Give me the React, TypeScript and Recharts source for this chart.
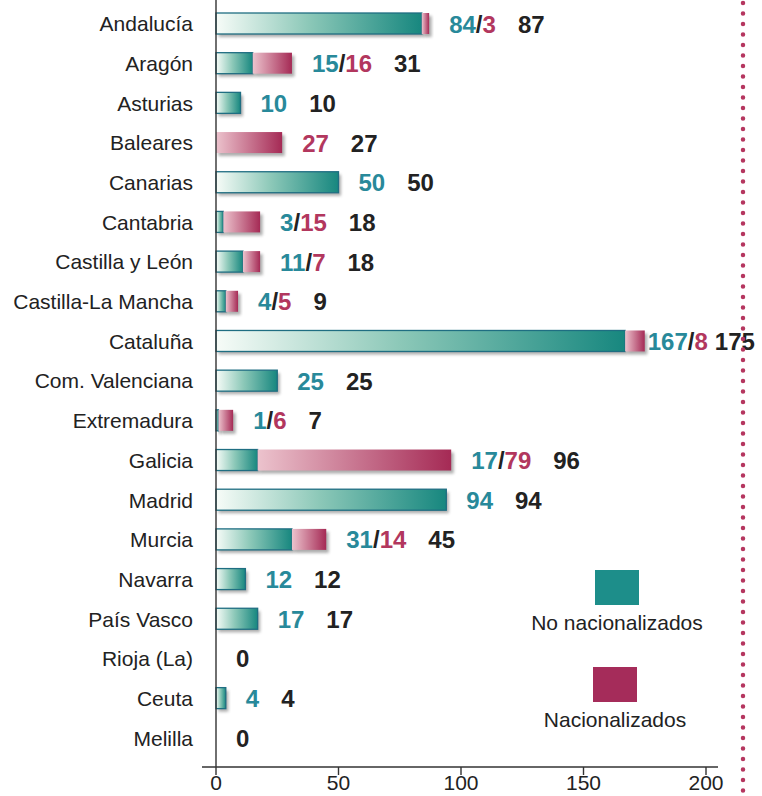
import React from 'react'
import {
  BarChart, Bar, XAxis, YAxis, ReferenceLine, LabelList, Legend,
} from 'recharts'

const regions = [
  'Andalucía', 'Aragón', 'Asturias', 'Baleares', 'Canarias', 'Cantabria',
  'Castilla y León', 'Castilla-La Mancha', 'Cataluña', 'Com. Valenciana',
  'Extremadura', 'Galicia', 'Madrid', 'Murcia', 'Navarra', 'País Vasco',
  'Rioja (La)', 'Ceuta', 'Melilla',
]
const noNacionalizados = [84, 15, 10, 0, 50, 3, 11, 4, 167, 25, 1, 17, 94, 31, 12, 17, 0, 4, 0]
const nacionalizados = [3, 16, 0, 27, 0, 15, 7, 5, 8, 0, 6, 79, 0, 14, 0, 0, 0, 0, 0]
const totals = [87, 31, 10, 27, 50, 18, 18, 9, 175, 25, 7, 96, 94, 45, 12, 17, 0, 4, 0]
const xTicks = [0, 50, 100, 150, 200]

const TEAL = '#17877f'
const CRIMSON = '#a52a55'
const TEAL_TEXT = '#28899a'
const CRIMSON_TEXT = '#b2375e'
const INK = '#222'
const FONT = '"Liberation Sans", Arial, Helvetica, sans-serif'

const data = regions.map((name, i) => ({
  name,
  noNac: noNacionalizados[i],
  nac: nacionalizados[i],
  total: totals[i],
}))

function segment(stroke?: string) {
  return (p: any) => {
    const { x, y, width, height, fill } = p
    if (!width || width <= 0) return <g />
    return (
      <g>
        <rect x={x + 2.5} y={y + 3} width={width} height={height} fill="#4a4a4a" opacity={0.45} filter="url(#barBlur)" />
        <rect x={x} y={y} width={width} height={height} fill={fill}
          stroke={stroke ?? 'none'} strokeWidth={stroke ? 1.3 : 0} />
      </g>
    )
  }
}

function ValueLabel(props: any) {
  const vb = props.viewBox ?? props
  const i = props.index
  const d = data[i]
  if (!d || vb == null) return null
  const end = vb.x + vb.width
  const cy = vb.y + vb.height / 2
  const a = d.noNac
  const b = d.nac
  let split = ''
  if (a > 0 && b > 0) split = `${a}/${b}`
  else if (a > 0) split = `${a}`
  else if (b > 0) split = `${b}`
  const w = split.replace('/', '').length * 13.3 + (split.includes('/') ? 6.7 : 0)
  let off = 20
  let gap = 22
  if (end + off + w + gap + String(d.total).length * 13.3 > 752) { off = 3; gap = 7 }
  return (
    <text x={end + off} y={cy} dominantBaseline="central" fontFamily={FONT}
      fontWeight={700} fontSize={24}>
      {a > 0 && <tspan fill={TEAL_TEXT}>{a}</tspan>}
      {a > 0 && b > 0 && <tspan fill={INK}>/</tspan>}
      {b > 0 && <tspan fill={CRIMSON_TEXT}>{b}</tspan>}
      <tspan dx={split ? gap : 0} fill={INK}>{d.total}</tspan>
    </text>
  )
}

function LegendBox() {
  const item = (color: string, label: string, shift: number) => (
    <div style={{ display: 'flex', flexDirection: 'column', alignItems: 'center', marginLeft: shift }}>
      <div style={{ width: 44, height: 35, background: color }} />
      <div style={{ fontFamily: FONT, fontSize: 21, color: INK, marginTop: 6 }}>{label}</div>
    </div>
  )
  return (
    <div style={{ display: 'flex', flexDirection: 'column', alignItems: 'center', gap: 32 }}>
      {item('#1d8e8a', 'No nacionalizados', 0)}
      {item('#a52c5a', 'Nacionalizados', -4)}
    </div>
  )
}

export default function App() {
  return (
    <div style={{ position: 'absolute', left: 0, top: 0, width: 762, height: 796, background: '#fff' }}>
      <BarChart width={762} height={796} data={data} layout="vertical"
        margin={{ top: 0, right: 44, left: 0, bottom: 0 }} barSize={21}>
        <defs>
          <linearGradient id="gradTeal" x1="0" y1="0" x2="1" y2="0">
            <stop offset="0%" stopColor="#f7fcf8" />
            <stop offset="45%" stopColor="#8cc8b8" />
            <stop offset="100%" stopColor={TEAL} />
          </linearGradient>
          <linearGradient id="gradCrimson" x1="0" y1="0" x2="1" y2="0">
            <stop offset="0%" stopColor="#ecc3cd" />
            <stop offset="100%" stopColor={CRIMSON} />
          </linearGradient>
          <filter id="barBlur" x="-20%" y="-50%" width="140%" height="200%">
            <feGaussianBlur stdDeviation="1.6" />
          </filter>
        </defs>
        <XAxis type="number" domain={[0, 200]} ticks={xTicks} padding={{ left: 14, right: 12 }}
          height={29} stroke="#333" strokeWidth={1.4} tickSize={8} tickMargin={0}
          tick={{ fontSize: 21, fill: INK, fontFamily: FONT }} />
        <YAxis type="category" dataKey="name" width={202} axisLine={false} tickLine={false}
          tickSize={0} tickMargin={9} interval={0} padding={{ top: 4, bottom: 9 }}
          tick={{ fontSize: 21, fill: INK, fontFamily: FONT }} />
        <ReferenceLine x={0} stroke="#333" strokeWidth={1.4} />
        <Legend layout="vertical" align="center" verticalAlign="middle"
          wrapperStyle={{ left: 512, top: 570, width: 210 }} content={() => <LegendBox />} />
        <Bar dataKey="noNac" name="No nacionalizados" stackId="a" fill="url(#gradTeal)"
          shape={segment('#1f6e82')} isAnimationActive={false} />
        <Bar dataKey="nac" name="Nacionalizados" stackId="a" fill="url(#gradCrimson)"
          shape={segment()} isAnimationActive={false}>
          <LabelList dataKey="nac" content={ValueLabel} />
        </Bar>
      </BarChart>
      <svg width={762} height={796} style={{ position: 'absolute', left: 0, top: 0, pointerEvents: 'none' }}>
        <line x1={743} y1={3} x2={743} y2={796} stroke="#b5365f" strokeWidth={4.5}
          strokeLinecap="round" strokeDasharray="0 10.5" />
      </svg>
    </div>
  )
}
